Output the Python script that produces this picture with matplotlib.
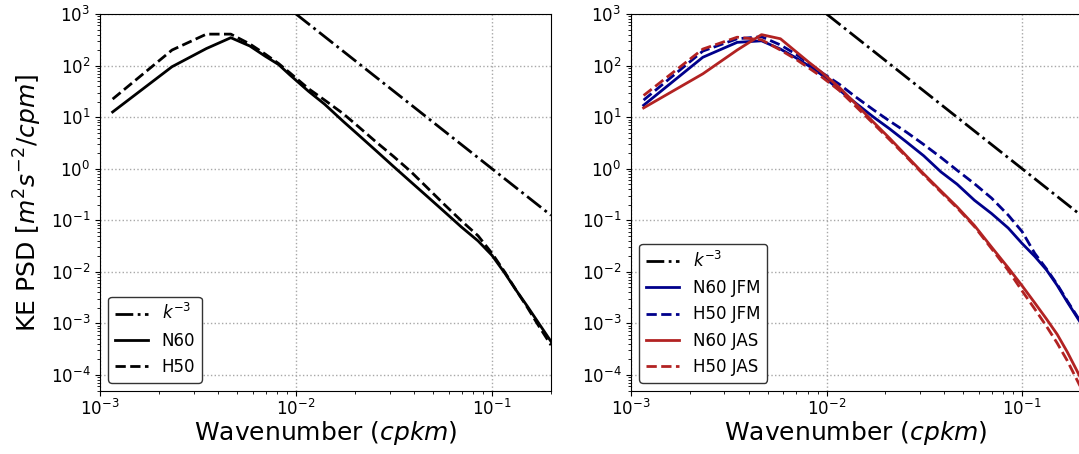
import numpy as np
import matplotlib
matplotlib.use('Agg')
import matplotlib.pyplot as plt
from matplotlib.ticker import LogLocator, NullFormatter

# wavenumber (cpkm)
k = [0.00116, 0.00233, 0.00349, 0.00465, 0.00581, 0.00698, 0.00814, 0.0093,
     0.0116, 0.014, 0.0174, 0.0209, 0.0256, 0.0314, 0.0384, 0.0465, 0.057,
     0.0698, 0.0849, 0.1, 0.116, 0.133, 0.151, 0.170, 0.2]

# KE PSD (m^2 s^-2 / cpm)
n60_all = [12.6, 95, 214, 347, 240, 151, 105, 66,
           31.6, 17.8, 8.3, 4.47, 2.24, 1.11, 0.562, 0.295, 0.148,
           0.0741, 0.0398, 0.0209, 0.00955, 0.00437, 0.00219, 0.00112, 0.000447]
h50_all = [22.4, 200, 407, 407, 263, 166, 110, 72.4,
           35.5, 21.4, 11.7, 6.46, 3.31, 1.74, 0.891, 0.437, 0.204,
           0.0977, 0.0501, 0.0229, 0.01, 0.00437, 0.00209, 0.001, 0.00038]

n60_jfm = [17, 145, 282, 302, 209, 141, 97.7, 69.2,
           33.9, 19.1, 10, 6.03, 3.31, 1.78, 0.871, 0.501, 0.245,
           0.135, 0.0708, 0.0355, 0.02, 0.011, 0.0055, 0.00263, 0.001]
h50_jfm = [21.4, 191, 331, 363, 251, 166, 110, 75.9,
           43.7, 25.1, 13.8, 8.51, 5.13, 2.95, 1.66, 0.933, 0.513,
           0.269, 0.126, 0.0603, 0.0229, 0.0115, 0.00575, 0.00275, 0.00105]
n60_jas = [15.1, 69.2, 200, 398, 331, 186, 115, 77.6,
           38, 18.6, 7.94, 3.98, 1.78, 0.794, 0.372, 0.182, 0.0794,
           0.0302, 0.012, 0.00537, 0.00251, 0.00123, 0.000617, 0.000282, 0.0000851]
h50_jas = [26.3, 209, 355, 316, 200, 132, 89.1, 63.1,
           33.1, 16.6, 7.41, 3.72, 1.70, 0.759, 0.355, 0.174, 0.0759,
           0.0282, 0.0107, 0.00427, 0.00191, 0.00089, 0.000417, 0.000191, 0.0000562]

# reference slope
k_ref = np.array([1e-2, 2e-1])

blue = '#00008b'
red = '#b22222'

fig = plt.figure(figsize=(10.79, 4.54), dpi=100)
ax1 = fig.add_axes([100 / 1079, 63 / 454, 451 / 1079, 377 / 454])
ax2 = fig.add_axes([631 / 1079, 63 / 454, 450 / 1079, 377 / 454])

ax1.plot(k_ref, 1e-3 * k_ref ** -3, 'k-.', lw=2, label='$k^{-3}$')
ax1.plot(k, n60_all, 'k-', lw=2, label='N60')
ax1.plot(k, h50_all, 'k--', lw=2, label='H50')

ax2.plot(k_ref, 1e-3 * k_ref ** -3, 'k-.', lw=2, label='$k^{-3}$')
ax2.plot(k, n60_jfm, '-', color=blue, lw=2, label='N60 JFM')
ax2.plot(k, h50_jfm, '--', color=blue, lw=2, label='H50 JFM')
ax2.plot(k, n60_jas, '-', color=red, lw=2, label='N60 JAS')
ax2.plot(k, h50_jas, '--', color=red, lw=2, label='H50 JAS')

for ax in (ax1, ax2):
    ax.set_xscale('log')
    ax.set_yscale('log')
    ax.set_xlim(1e-3, 2e-1)
    ax.set_ylim(4.9e-5, 1e3)
    ax.yaxis.set_major_locator(LogLocator(base=10, numticks=20))
    ax.yaxis.set_minor_locator(LogLocator(base=10, subs=np.arange(2, 10), numticks=20))
    ax.yaxis.set_minor_formatter(NullFormatter())
    ax.xaxis.set_minor_formatter(NullFormatter())
    ax.tick_params(which='minor', labelbottom=False, labelleft=False)
    ax.grid(True, which='major', linestyle=':', color='#a8a8a8', lw=1)
    ax.tick_params(which='major', labelsize=12)
    ax.tick_params(axis='x', which='major', pad=2.5)
    ax.set_xlabel('Wavenumber ($cpkm$)', fontsize=18, labelpad=0)
    leg = ax.legend(loc='lower left', fontsize=12, framealpha=1, fancybox=True)
    leg.get_frame().set_edgecolor('#333333')

ax1.set_ylabel('KE PSD [$m^2s^{-2}/cpm$]', fontsize=18, labelpad=5)

fig.savefig('out.png', dpi=100)
